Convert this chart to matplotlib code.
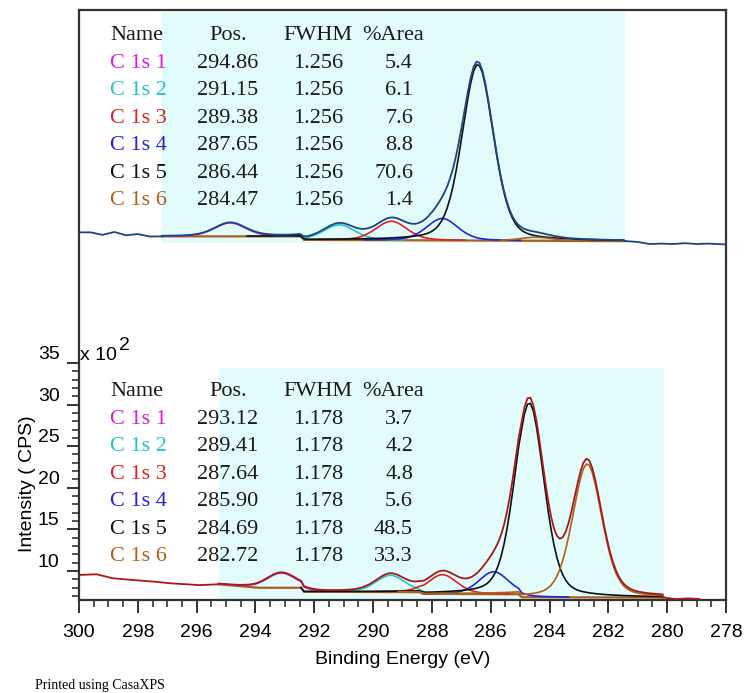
import numpy as np
import matplotlib.pyplot as plt
from matplotlib.ticker import FixedLocator, NullFormatter

# C 1s peak tables (two stacked spectra)
names = ["C 1s 1", "C 1s 2", "C 1s 3", "C 1s 4", "C 1s 5", "C 1s 6"]
comp_colors = ["#d81ed8", "#22c4c4", "#e02020", "#2424dc", "#101010", "#b0601c"]

top_pos = [294.86, 291.15, 289.38, 287.65, 286.44, 284.47]
top_fwhm = [1.256, 1.256, 1.256, 1.256, 1.256, 1.256]
top_area = [5.4, 6.1, 7.6, 8.8, 70.6, 1.4]

bot_pos = [293.12, 289.41, 287.64, 285.90, 284.69, 282.72]
bot_fwhm = [1.178, 1.178, 1.178, 1.178, 1.178, 1.178]
bot_area = [3.7, 4.2, 4.8, 5.6, 48.5, 33.3]

# peak height per % area, x10^2 CPS
top_scale = 0.30
bot_scale = 0.482

# fit regions (eV)
top_region = (297.18, 281.43)
bot_region = (295.25, 280.10)

# backgrounds under the fitted peaks
top_bg_e = [297.18, 292.45, 292.35, 281.43]
top_bg_v = [50.22, 50.22, 49.80, 49.65]
bot_bg_e = [295.25, 293.90, 292.45, 292.35, 288.40, 288.30, 285.05, 284.95, 280.10]
bot_bg_v = [8.40, 7.98, 7.98, 7.50, 7.45, 7.25, 7.20, 6.85, 6.80]

# counts outside the fit regions
top_left_e = [300.0, 299.6, 299.2, 298.8, 298.4, 298.0, 297.6, 297.18]
top_left_v = [50.70, 50.70, 50.40, 50.75, 50.35, 50.50, 50.20, 50.22]
top_right_e = [281.43, 281.0, 280.6, 280.2, 279.8, 279.4, 279.0, 278.6, 278.0]
top_right_v = [49.65, 49.55, 49.30, 49.35, 49.30, 49.40, 49.30, 49.35, 49.25]
bot_left_e = [300.0, 299.4, 298.85, 297.9, 297.4, 296.9, 295.9, 295.25]
bot_left_v = [9.52, 9.60, 9.12, 8.84, 8.70, 8.52, 8.30, 8.40]
bot_right_e = [280.10, 279.7, 279.3, 278.9]
bot_right_v = [6.80, 6.62, 6.70, 6.62]


def gl(e, pos, fwhm, m=0.3):
    x = (e - pos) / fwhm
    return (1 - m) * np.exp(-4 * np.log(2) * x ** 2) + m / (1 + 4 * x ** 2)


fig = plt.figure(figsize=(7.46, 6.93), dpi=100)
W, H = 746, 693
ax = fig.add_axes([79 / W, 1 - 600 / H, (726 - 79) / W, 590 / H])
ax.set_xlim(300, 278)
ax.set_ylim(6.51, 77.43)

# shaded fit regions
ax.fill_between([top_region[0], top_region[1]], 49.4, 77.2, color="#e2fcfc", lw=0, zorder=0)
ax.fill_between([bot_region[0], bot_region[1]], 6.51, 34.4, color="#e2fcfc", lw=0, zorder=0)


def draw_spectrum(region, bg_e, bg_v, pos, fwhm, area, scale,
                  left_e, left_v, right_e, right_v, data_color):
    e = np.arange(region[0], region[1] - 0.001, -0.1)
    bg = np.interp(e, bg_e[::-1], bg_v[::-1])
    total = bg.copy()
    for p, f, a, c in zip(pos, fwhm, area, comp_colors):
        comp = a * scale * gl(e, p, f)
        total += comp
        y = np.where(comp > 0.04, bg + comp, np.nan)
        ax.plot(e, y, color=c, lw=1.2, zorder=3)
    ax.plot(bg_e, bg_v, color="#a8601c", lw=1.6, zorder=2)
    ax.plot(left_e, left_v, color=data_color, lw=1.3, zorder=4)
    ax.plot(e, total, color=data_color, lw=1.3, zorder=4)
    ax.plot(right_e, right_v, color=data_color, lw=1.3, zorder=4)


draw_spectrum(top_region, top_bg_e, top_bg_v, top_pos, top_fwhm, top_area, top_scale,
              top_left_e, top_left_v, top_right_e, top_right_v, "#1c4585")
draw_spectrum(bot_region, bot_bg_e, bot_bg_v, bot_pos, bot_fwhm, bot_area, bot_scale,
              bot_left_e, bot_left_v, bot_right_e, bot_right_v, "#a81818")

# axes frame and ticks
for s in ax.spines.values():
    s.set_color("#333333")
    s.set_linewidth(1.6)

ax.xaxis.set_major_locator(FixedLocator(np.arange(278, 301, 2)))
ax.xaxis.set_minor_locator(FixedLocator(np.arange(278, 300.1, 0.5)))
ax.yaxis.set_major_locator(FixedLocator([10, 15, 20, 25, 30, 35]))
ax.yaxis.set_minor_locator(FixedLocator(np.arange(7, 35, 1)))
ax.yaxis.set_minor_formatter(NullFormatter())
ax.tick_params(which="major", direction="out", length=9, width=1.3, color="#222222",
               labelsize=14, pad=5)
ax.tick_params(which="minor", direction="out", length=5, width=1.1, color="#222222")
ax.tick_params(axis="x", which="major", pad=8)
for lab in ax.get_yticklabels():
    lab.set_fontfamily("Liberation Sans")
    lab.set_verticalalignment("bottom")
for lab in ax.get_xticklabels():
    lab.set_fontfamily("Liberation Sans")

fig.text(403 / W, 1 - 660 / H, "Binding Energy (eV)", ha="center", va="center",
         fontsize=14, family="Liberation Sans")
fig.text(28 / W, 1 - 484 / H, "Intensity ( CPS)", ha="center", va="center",
         rotation=90, fontsize=14, family="Liberation Sans")
fig.text(80 / W, 1 - 356 / H, "x 10", ha="left", va="center", fontsize=14,
         family="Liberation Sans")
fig.text(119 / W, 1 - 345 / H, "2", ha="left", va="center", fontsize=14,
         family="Liberation Sans")
fig.text(35 / W, 1 - 686 / H, "Printed using CasaXPS", ha="left", va="center",
         fontsize=10, family="Liberation Serif")


def draw_table(y0, pos, fwhm, area):
    step = 27.4
    kw = dict(va="center", fontsize=16, family="Liberation Serif", color="#1a1a1a")
    fig.text(110 / W, 1 - y0 / H, "Name", ha="left", **kw)
    fig.text(228 / W, 1 - y0 / H, "Pos.", ha="center", **kw)
    fig.text(318 / W, 1 - y0 / H, "FWHM", ha="center", **kw)
    fig.text(362 / W, 1 - y0 / H, "%Area", ha="left", **kw)
    for i in range(6):
        y = 1 - (y0 + step * (i + 1)) / H
        fig.text(110 / W, y, names[i], ha="left",
                 **{**kw, "color": comp_colors[i]})
        fig.text(228 / W, y, f"{pos[i]:.2f}", ha="center", **kw)
        fig.text(318 / W, y, f"{fwhm[i]:.3f}", ha="center", **kw)
        fig.text(413 / W, y, f"{area[i]:.1f}", ha="right", **kw)


draw_table(36, top_pos, top_fwhm, top_area)
draw_table(392, bot_pos, bot_fwhm, bot_area)

fig.savefig("out.png", dpi=100)
